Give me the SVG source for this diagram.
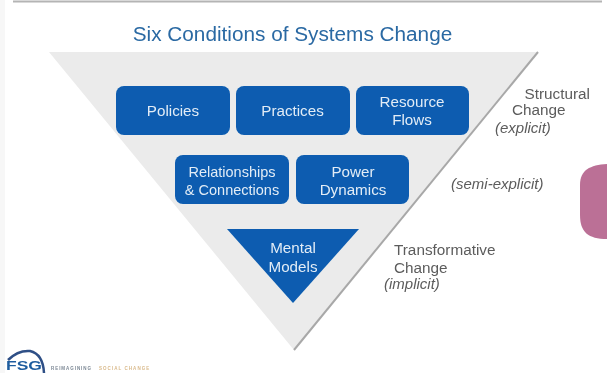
<svg xmlns="http://www.w3.org/2000/svg" width="607" height="373" viewBox="0 0 607 373">
<defs>
<filter id="soft" x="-5%" y="-5%" width="110%" height="110%"><feGaussianBlur stdDeviation="0.5"/></filter>
</defs>
<style>
.t{font-family:"Liberation Sans",Arial,sans-serif}
.box{fill:#0a5cb0}
.w{fill:#e3ecf6;font-size:15.2px;text-anchor:middle}
.n{font-size:14.5px}
.g{fill:#5c5c5c;font-size:15.3px}
.i{font-style:italic;font-size:15px}
</style>
<rect width="607" height="373" fill="#fff"/>
<rect x="0" y="0" width="5" height="373" fill="#f7f7f7"/>
<line x1="13" y1="1.500" x2="602" y2="1.500" stroke="#b4b4b4" stroke-width="2"/>
<text class="t" x="292.500" y="41" font-size="20.750" fill="#2a69a3" text-anchor="middle" filter="url(#soft)">Six Conditions of Systems Change</text>
<g id="pyramid" filter="url(#soft)">
<path d="M49 52H538L294 350Z" fill="#ebebeb"/>
<path d="M538 52L294 350" fill="none" stroke="#a8a8a8" stroke-width="2"/>
</g>
<g id="connectors"></g>
<g id="policies" filter="url(#soft)"><rect class="box" x="116" y="86" width="114" height="49" rx="8"/><text class="t w" x="173" y="116">Policies</text></g>
<g id="practices" filter="url(#soft)"><rect class="box" x="236" y="86" width="114" height="49" rx="8"/><text class="t w" x="292.500" y="116">Practices</text></g>
<g id="resource-flows" filter="url(#soft)"><rect class="box" x="356" y="86" width="113" height="49" rx="8"/><text class="t w" x="412" y="107">Resource</text><text class="t w" x="412" y="125">Flows</text></g>
<g id="relationships" filter="url(#soft)"><rect class="box" x="175" y="155" width="114" height="49" rx="8"/><text class="t w n" x="232" y="177">Relationships</text><text class="t w n" x="232" y="195">&amp; Connections</text></g>
<g id="power-dynamics" filter="url(#soft)"><rect class="box" x="296" y="155" width="113" height="49" rx="8"/><text class="t w" x="353" y="177">Power</text><text class="t w" x="353" y="195">Dynamics</text></g>
<g id="mental-models" filter="url(#soft)"><path class="box" d="M227 229H359L293 303Z"/><text class="t w" x="293" y="253">Mental</text><text class="t w" x="293" y="272">Models</text></g>
<g id="labels" filter="url(#soft)">
<text class="t g" x="524.500" y="99">Structural</text>
<text class="t g" x="512" y="115">Change</text>
<text class="t g i" x="495" y="133">(explicit)</text>
<text class="t g i" x="451" y="189">(semi-explicit)</text>
<text class="t g" x="394" y="255">Transformative</text>
<text class="t g" x="394" y="273">Change</text>
<text class="t g i" x="384" y="289">(implicit)</text>
</g>
<path id="tab" d="M607 164C590 165 580 170 580 185V215C580 232 588 239 607 239Z" fill="#bb7096"/>
<g id="logo" filter="url(#soft)">
<path d="M8 360Q18 350 30 351Q43 354 44 373" fill="none" stroke="#2f4f86" stroke-width="2.500"/>
<text class="t" x="6" y="369.500" font-size="13" font-weight="700" fill="#1f5c9e" textLength="36" lengthAdjust="spacingAndGlyphs">FSG</text>
<text class="t" x="51" y="370" font-size="4.500" font-weight="700" fill="#7b8794" letter-spacing="0.950">REIMAGINING</text>
<text class="t" x="99" y="370" font-size="4.500" font-weight="700" fill="#d9b98a" letter-spacing="1.050">SOCIAL CHANGE</text>
</g>
</svg>
